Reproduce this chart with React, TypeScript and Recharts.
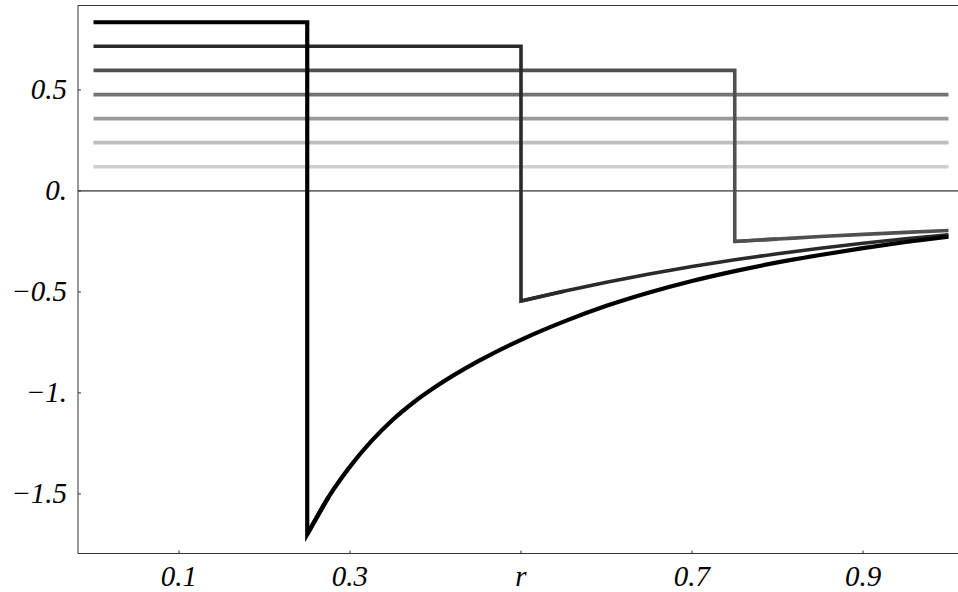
import { LineChart, Line, XAxis, YAxis, ReferenceLine } from 'recharts'

// ── Data ─────────────────────────────────────────────────────────────────────

// constant level of each curve inside its radius (top to bottom)
const flatLevels = [0.835, 0.716, 0.597, 0.477, 0.358, 0.239, 0.12]
// radius where the first three curves jump down
const jumpR = [0.25, 0.5, 0.75]

const blackR = [0.25, 0.275, 0.3, 0.325, 0.35, 0.375, 0.4, 0.45, 0.5, 0.55, 0.6, 0.65, 0.7, 0.75, 0.8, 0.85, 0.9, 0.95, 1.0]
const blackV = [-1.7, -1.515, -1.365, -1.239, -1.133, -1.045, -0.97, -0.843, -0.737, -0.647, -0.569, -0.503, -0.446, -0.397, -0.354, -0.317, -0.283, -0.253, -0.226]

const darkR = [0.5, 0.55, 0.6, 0.65, 0.7, 0.75, 0.8, 0.85, 0.9, 0.95, 1.0]
const darkV = [-0.545, -0.497, -0.452, -0.411, -0.374, -0.341, -0.311, -0.284, -0.259, -0.237, -0.217]

const grayR = [0.75, 0.8, 0.85, 0.9, 0.95, 1.0]
const grayV = [-0.25, -0.238, -0.226, -0.215, -0.205, -0.196]

const curveR = [blackR, darkR, grayR]
const curveV = [blackV, darkV, grayV]

const xTicks = [0.1, 0.3, 0.5, 0.7, 0.9]
const xTickLabels = ['0.1', '0.3', 'r', '0.7', '0.9']
const yTicks = [0.5, 0, -0.5, -1, -1.5]
const yTickLabels = ['0.5', '0.', '−0.5', '−1.', '−1.5']

// ── Style ────────────────────────────────────────────────────────────────────

const COLORS = ['#000000', '#2a2a2a', '#505050', '#727272', '#9a9a9a', '#bdbdbd', '#cfcfcf']
const WIDTHS = [4.2, 3.6, 3.6, 3.6, 3.6, 3.6, 3.6]
const FRAME = '#333'
const FONT = 'Liberation Serif, Times New Roman, serif'

const W = 958
const H = 592
const X_AXIS_H = 38.5
const AXIS_Y = H - X_AXIS_H

const X_DOMAIN = [-0.0181, 1.0111]
const Y_DOMAIN = [-1.795, 0.918]

// the chart fills the whole window, so drop the default body margin
if (typeof document !== 'undefined') {
  document.body.style.margin = '0'
  document.body.style.overflow = 'hidden'
}

// ── Series tables ────────────────────────────────────────────────────────────

type Pt = { x: number; y: number }

const stepSeries: Pt[][] = flatLevels.map((level, i) => {
  if (i >= jumpR.length) return [{ x: 0, y: level }, { x: 1, y: level }]
  const r = curveR[i]
  const v = curveV[i]
  return [
    { x: 0, y: level },
    { x: jumpR[i], y: level },
    { x: r[0], y: v[0] },
    { x: r[1], y: v[1] },
  ]
})

const curveSeries: Pt[][] = curveR.map((r, i) => r.map((x, j) => ({ x, y: curveV[i][j] })))

// ── Ticks ────────────────────────────────────────────────────────────────────

function XTick(props: any) {
  const { x, payload } = props
  const label = xTickLabels[xTicks.indexOf(payload.value)]
  return (
    <g>
      <line x1={x} x2={x} y1={AXIS_Y} y2={AXIS_Y - 3} stroke={FRAME} strokeWidth={1} />
      <text x={x} y={AXIS_Y + 32} textAnchor="middle" fontFamily={FONT} fontStyle="italic" fontSize={29} fill="#000">
        {label}
      </text>
    </g>
  )
}

function YTick(props: any) {
  const { x, y, payload } = props
  const label = yTickLabels[yTicks.indexOf(payload.value)]
  return (
    <g>
      <line x1={x} x2={x + 3} y1={y} y2={y} stroke={FRAME} strokeWidth={1} />
      <text x={x - 11} y={y + 9.5} textAnchor="end" fontFamily={FONT} fontStyle="italic" fontSize={29} fill="#000">
        {label}
      </text>
    </g>
  )
}

// ── Chart ────────────────────────────────────────────────────────────────────

export default function App() {
  const order = [6, 5, 4, 3, 2, 1, 0]
  return (
    <div style={{ width: W, height: H, background: '#fff', overflow: 'hidden' }}>
      <LineChart width={W} height={H} margin={{ top: 5.5, right: 0, bottom: 0, left: 0 }}>
        <XAxis
          type="number"
          dataKey="x"
          domain={X_DOMAIN}
          allowDataOverflow
          ticks={xTicks}
          interval={0}
          height={X_AXIS_H}
          tickLine={false}
          tickSize={0}
          tickMargin={0}
          axisLine={{ stroke: FRAME, strokeWidth: 1 }}
          tick={<XTick />}
        />
        <YAxis
          type="number"
          dataKey="y"
          domain={Y_DOMAIN}
          allowDataOverflow
          ticks={yTicks}
          interval={0}
          width={78}
          tickLine={false}
          tickSize={0}
          tickMargin={0}
          axisLine={{ stroke: FRAME, strokeWidth: 1 }}
          tick={<YTick />}
        />
        <ReferenceLine y={Y_DOMAIN[1]} stroke={FRAME} strokeWidth={1} />
        <ReferenceLine y={0} stroke="#000" strokeWidth={1} />
        {order.map((i) => [
          <Line
            key={`step-${i}`}
            data={stepSeries[i]}
            dataKey="y"
            type="linear"
            stroke={COLORS[i]}
            strokeWidth={WIDTHS[i]}
            strokeLinejoin="miter"
            dot={false}
            activeDot={false}
            isAnimationActive={false}
          />,
          i < curveSeries.length ? (
            <Line
              key={`curve-${i}`}
              data={curveSeries[i]}
              dataKey="y"
              type="monotone"
              stroke={COLORS[i]}
              strokeWidth={WIDTHS[i]}
              dot={false}
              activeDot={false}
              isAnimationActive={false}
            />
          ) : null,
        ])}
      </LineChart>
    </div>
  )
}
